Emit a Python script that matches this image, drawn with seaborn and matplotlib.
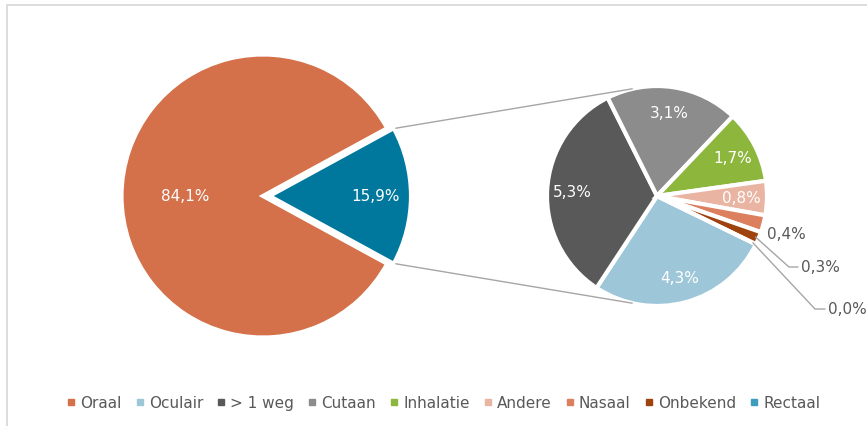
import numpy as np
import matplotlib
matplotlib.use("Agg")
import matplotlib.pyplot as plt
import seaborn as sns
from matplotlib.lines import Line2D
from matplotlib.patches import Rectangle

# data
main_labels = ["Oraal", "Overig"]
main_values = [84.1, 15.9]
main_colors = ["#D4704A", "#00779C"]

sub_labels = ["Oculair", "> 1 weg", "Cutaan", "Inhalatie", "Andere", "Nasaal", "Onbekend", "Rectaal"]
sub_values = [4.3, 5.3, 3.1, 1.7, 0.8, 0.4, 0.3, 0.0]
sub_colors = ["#9DC7D9", "#595959", "#8C8C8C", "#8DB63C", "#E9B4A2", "#DC7F5E", "#9E420E", "#3E9DBF"]

sns.set_theme(style="white")
plt.rcParams["font.family"] = ["DejaVu Sans"]

W, H = 867, 427
GREY = "#595959"
fig = plt.figure(figsize=(W / 100, H / 100), dpi=100)
ax = fig.add_axes([0, 0, 1, 1])


def fmt(v):
    return f"{v:.1f}".replace(".", ",") + "%"


def point(w, ang, d=1.0):
    cx, cy = w.center
    a = np.deg2rad(ang)
    return cx + d * w.r * np.cos(a), cy + d * w.r * np.sin(a)


# left pie (explode is in data units = pixels here)
w1, _ = ax.pie(main_values, colors=main_colors, startangle=main_values[1] / 100 * 180,
               explode=[0, 6.5], center=(263, 230), radius=141.5,
               wedgeprops=dict(edgecolor="white", linewidth=3))
for w, v, d in zip(w1, main_values, [0.55, 0.75]):
    mid = (w.theta1 + w.theta2) / 2
    x, y = point(w, mid, d)
    ax.text(x, y, fmt(v), color="white", fontsize=11, ha="center", va="center")

# right pie (breakdown of the 15,9%)
w2, _ = ax.pie(sub_values, colors=sub_colors, startangle=-26, counterclock=False,
               center=(657, 230), radius=110,
               wedgeprops=dict(edgecolor="white", linewidth=3))
for w, v in zip(w2[:5], sub_values[:5]):
    mid = (w.theta1 + w.theta2) / 2
    x, y = point(w, mid, 0.77)
    ax.text(x, y, fmt(v), color="white", fontsize=11, ha="center", va="center")

# small slices: outside labels
ax.text(767, 192, fmt(sub_values[5]), color=GREY, fontsize=11, ha="left", va="center")
for w, v, elbow, end in zip(w2[6:], sub_values[6:], [(789, 159), (815, 117)], [(798, 159), (825, 117)]):
    mid = (w.theta1 + w.theta2) / 2
    x0, y0 = point(w, mid, 0.97)
    ax.plot([x0, elbow[0], end[0]], [y0, elbow[1], end[1]], color="#A6A6A6", lw=1)
    ax.text(end[0] + 3, end[1], fmt(v), color=GREY, fontsize=11, ha="left", va="center")

# connector lines between the pies
other = w1[1]
for a_from, a_to in [(other.theta2, 103), (other.theta1, -103)]:
    x0, y0 = point(other, a_from)
    x1, y1 = point(w2[0], a_to)
    ax.plot([x0 + 2, x1], [y0, y1], color="#A6A6A6", lw=1)

ax.set_xlim(0, W)
ax.set_ylim(0, H)
ax.set_aspect("auto")
ax.axis("off")

# chart border
ax.add_patch(Rectangle((7, -10), W + 20, H - 6 + 10, fill=False, edgecolor="#D9D9D9", lw=1.3, clip_on=False))

handles = [Line2D([], [], marker="s", ls="", color=c, markersize=5) for c in [main_colors[0]] + sub_colors]
fig.legend(handles, [main_labels[0]] + sub_labels, loc="center", bbox_to_anchor=(0.5104, 1 - 404 / H),
           ncol=9, frameon=False, fontsize=11, handletextpad=0.2, columnspacing=0.78,
           handlelength=0.8, labelcolor=GREY)

fig.savefig("out.png", dpi=100)
